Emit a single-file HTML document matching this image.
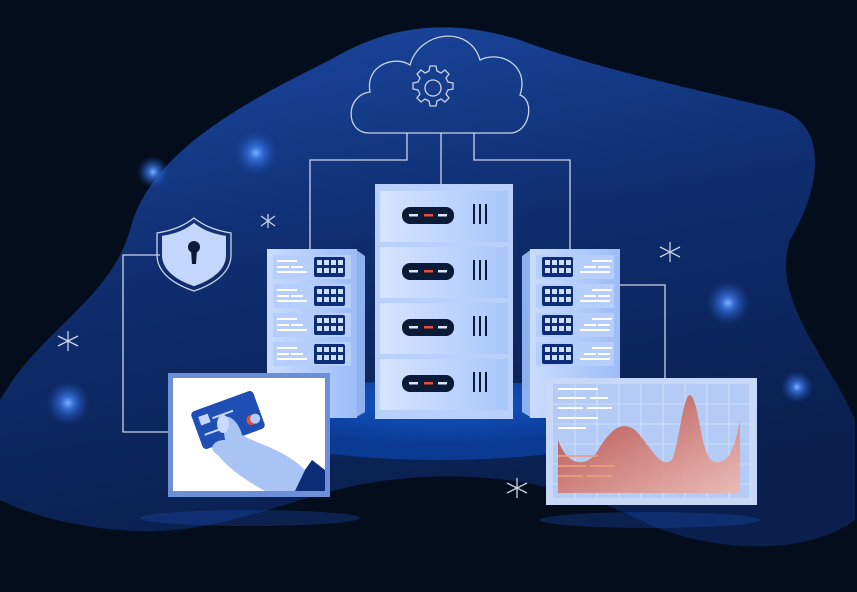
<!DOCTYPE html>
<html><head><style>html,body{margin:0;padding:0;background:#040d1c;}svg{display:block}</style></head>
<body>
<svg width="857" height="592" viewBox="0 0 857 592" xmlns="http://www.w3.org/2000/svg">
<defs>
<linearGradient id="blob" x1="0" y1="0" x2="0.3" y2="1">
<stop offset="0" stop-color="#1c4aa6"/><stop offset="0.5" stop-color="#0f2d6e"/><stop offset="1" stop-color="#0a1f4e"/></linearGradient>
<radialGradient id="glow"><stop offset="0" stop-color="#7fb0ff"/><stop offset="0.3" stop-color="#3b78e8" stop-opacity="0.8"/><stop offset="1" stop-color="#1a4ab0" stop-opacity="0"/></radialGradient>
<linearGradient id="srv" x1="0" y1="0" x2="1" y2="0"><stop offset="0" stop-color="#c9dcff"/><stop offset="1" stop-color="#9dbcf6"/></linearGradient>
<linearGradient id="slot" x1="0" y1="0" x2="1" y2="0"><stop offset="0" stop-color="#d6e5ff"/><stop offset="1" stop-color="#a9c6fa"/></linearGradient>
<linearGradient id="chart" x1="0" y1="0" x2="1" y2="1"><stop offset="0" stop-color="#b04a45"/><stop offset="1" stop-color="#f0b7ae" stop-opacity="0.9"/></linearGradient>
<radialGradient id="plat" cx="0.5" cy="0.3"><stop offset="0" stop-color="#1456c8"/><stop offset="1" stop-color="#0b3a93"/></radialGradient>
</defs>
<rect width="857" height="592" fill="#040d1c"/>
<path d="M0,400 C40,330 110,300 130,230 C150,150 250,100 330,60 C380,30 440,15 520,40 C600,70 700,90 780,110 C830,125 820,190 790,240 C770,300 830,360 855,420 L855,520 C800,560 700,550 640,520 C560,480 470,470 390,480 C300,490 220,540 120,530 C60,525 20,510 0,500 Z" fill="url(#blob)"/>
<ellipse cx="440" cy="420" rx="205" ry="40" fill="url(#plat)"/>
<g fill="url(#glow)">
<circle cx="256" cy="153" r="22"/><circle cx="153" cy="172" r="16"/><circle cx="68" cy="403" r="22"/><circle cx="728" cy="303" r="22"/><circle cx="797" cy="387" r="16"/>
</g>
<g stroke="#c8d3e8" stroke-width="1.3" fill="none">
<path d="M369,133 C345,133 345,95 370,92 C365,65 395,55 410,65 C420,30 470,25 480,60 C500,50 530,65 520,95 C535,100 530,133 510,133 Z"/>
<circle cx="433" cy="88" r="8"/>
<path d="M430,66 h6 l1,5 l4,2 l4,-3 l4,4 l-3,4 l2,4 l5,1 v6 l-5,1 l-2,4 l3,4 l-4,4 l-4,-3 l-4,2 l-1,5 h-6 l-1,-5 l-4,-2 l-4,3 l-4,-4 l3,-4 l-2,-4 l-5,-1 v-6 l5,-1 l2,-4 l-3,-4 l4,-4 l4,3 l4,-2 Z"/>
<path d="M407,133 V160 H310 V250 M441,133 V185 M474,133 V160 H570 V250 M620,285 H665 V378 M160,255 H123 V432 H170"/>
<path d="M157,233 C175,230 185,225 194,218 C203,225 213,230 231,233 V255 C231,272 215,284 194,291 C173,284 157,272 157,255 Z"/>
<path d="M268,214 V228 M261,216 L275,226 M275,216 L261,226 M68,331 V351 M58,336 L78,346 M78,336 L58,346 M670,242 V262 M660,247 L680,257 M680,247 L660,257 M517,478 V498 M507,483 L527,493 M527,483 L507,493"/>
</g>
<path d="M157,233 C175,230 185,225 194,218 C203,225 213,230 231,233 V255 C231,272 215,284 194,291 C173,284 157,272 157,255 Z" fill="#c3d6fb" stroke="#c8d3e8" stroke-width="1.3" transform="translate(194 255) scale(0.85) translate(-194 -255)"/>
<circle cx="194" cy="247" r="6" fill="#0b1a3a"/><path d="M191,250 L197,250 L196,264 L192,264 Z" fill="#0b1a3a"/>
<!-- left server -->
<path d="M355,249 L365,256 V412 L355,418 Z" fill="#8fb0ee"/>
<rect x="267" y="249" width="90" height="169" fill="url(#srv)"/>
<g id="ls">
<rect x="273" y="255" width="78" height="24" fill="#b6cefb"/>
<g fill="#fff"><rect x="277" y="260" width="20" height="2"/><rect x="277" y="266" width="12" height="2"/><rect x="291" y="266" width="12" height="2"/><rect x="277" y="271" width="30" height="2"/></g>
<rect x="314" y="257" width="31" height="20" rx="2" fill="#0d2d78"/>
<g fill="#cfe0ff"><rect x="317" y="260" width="5" height="5"/><rect x="324" y="260" width="5" height="5"/><rect x="331" y="260" width="5" height="5"/><rect x="338" y="260" width="5" height="5"/><rect x="317" y="268" width="5" height="5"/><rect x="324" y="268" width="5" height="5"/><rect x="331" y="268" width="5" height="5"/><rect x="338" y="268" width="5" height="5"/></g>
</g>
<use href="#ls" y="29"/><use href="#ls" y="58"/><use href="#ls" y="87"/>
<!-- right server -->
<path d="M532,249 L522,256 V412 L532,418 Z" fill="#8fb0ee"/>
<rect x="530" y="249" width="90" height="169" fill="url(#srv)"/>
<g id="rs">
<rect x="536" y="255" width="78" height="24" fill="#b6cefb"/>
<rect x="542" y="257" width="31" height="20" rx="2" fill="#0d2d78"/>
<g fill="#cfe0ff"><rect x="545" y="260" width="5" height="5"/><rect x="552" y="260" width="5" height="5"/><rect x="559" y="260" width="5" height="5"/><rect x="566" y="260" width="5" height="5"/><rect x="545" y="268" width="5" height="5"/><rect x="552" y="268" width="5" height="5"/><rect x="559" y="268" width="5" height="5"/><rect x="566" y="268" width="5" height="5"/></g>
<g fill="#fff"><rect x="592" y="260" width="20" height="2"/><rect x="584" y="266" width="12" height="2"/><rect x="598" y="266" width="12" height="2"/><rect x="580" y="271" width="30" height="2"/></g>
</g>
<use href="#rs" y="29"/><use href="#rs" y="58"/><use href="#rs" y="87"/>
<!-- center server -->
<rect x="375" y="184" width="138" height="235" fill="#b8d0fb"/>
<g id="cs">
<rect x="380" y="191" width="128" height="51" fill="url(#slot)"/>
<rect x="402" y="207" width="52" height="17" rx="8" fill="#0b1a36"/>
<rect x="409" y="214" width="9" height="2.5" fill="#dbe6fb"/><rect x="424" y="214" width="9" height="2.5" fill="#e0503a"/><rect x="438" y="214" width="9" height="2.5" fill="#dbe6fb"/>
<g fill="#0b1a36"><rect x="473" y="204" width="2" height="20"/><rect x="479" y="204" width="2" height="20"/><rect x="485" y="204" width="2" height="20"/></g>
</g>
<use href="#cs" y="56"/><use href="#cs" y="112"/><use href="#cs" y="168"/>
<!-- left monitor -->
<rect x="168" y="373" width="162" height="124" fill="#6d8fd8"/>
<rect x="173" y="378" width="152" height="113" fill="#ffffff"/>
<path d="M290,491 L312,460 L325,470 V491 Z" fill="#0d2d78"/>
<g transform="rotate(-20 228 420)"><rect x="195" y="400" width="66" height="40" rx="4" fill="#1f4fb5"/><rect x="201" y="407" width="10" height="9" fill="#c4d6ff"/><circle cx="250" cy="428" r="5" fill="#e0503a"/><circle cx="254" cy="428" r="5" fill="#b6ccff"/><rect x="214" y="412" width="22" height="2" fill="#c4d6ff"/><rect x="201" y="425" width="20" height="2" fill="#c4d6ff"/></g>
<path d="M222,418 C230,412 240,425 242,435 C260,445 285,450 305,470 L295,491 H265 C245,480 228,468 218,455 C208,450 212,440 225,440 Z" fill="#a9c3f5"/>
<ellipse cx="223" cy="424" rx="6" ry="9" fill="#c9daff"/>
<!-- right monitor -->
<rect x="546" y="378" width="211" height="127" fill="#c7d8f8"/>
<rect x="553" y="384" width="196" height="114" fill="#b3cbf5"/>
<g stroke="#d8e5fc" stroke-width="0.8">
<path d="M575,384 V498 M597,384 V498 M619,384 V498 M641,384 V498 M663,384 V498 M685,384 V498 M707,384 V498 M729,384 V498 M553,404 H749 M553,424 H749 M553,444 H749 M553,464 H749 M553,484 H749"/>
</g>
<path d="M558,440 C565,460 580,470 595,455 C610,430 620,420 635,430 C650,445 660,470 672,460 C680,440 683,395 690,395 C700,400 700,460 715,462 C730,465 735,445 740,420 V493 H558 Z" fill="url(#chart)"/>
<g fill="#ffffff"><rect x="558" y="388" width="40" height="2"/><rect x="558" y="397" width="28" height="2"/><rect x="590" y="397" width="18" height="2"/><rect x="558" y="407" width="25" height="2"/><rect x="587" y="407" width="25" height="2"/><rect x="558" y="417" width="40" height="2"/><rect x="558" y="427" width="28" height="2"/></g>
<g fill="#f0a080" opacity="0.8"><rect x="558" y="455" width="40" height="2"/><rect x="558" y="465" width="28" height="2"/><rect x="590" y="465" width="25" height="2"/><rect x="558" y="475" width="25" height="2"/><rect x="587" y="475" width="25" height="2"/></g>
<ellipse cx="250" cy="518" rx="110" ry="8" fill="#1a4ab0" opacity="0.35"/>
<ellipse cx="650" cy="520" rx="110" ry="8" fill="#1a4ab0" opacity="0.35"/>
</svg>
</body></html>
